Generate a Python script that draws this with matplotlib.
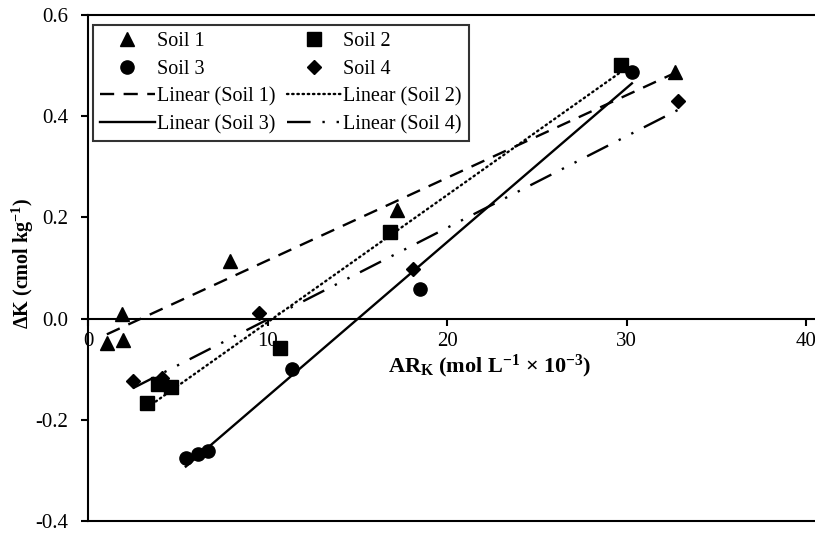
import numpy as np
import matplotlib
matplotlib.use("Agg")
import matplotlib.pyplot as plt

# values
soil1_x = [1.05, 1.95, 1.9, 7.9, 17.2, 32.7]
soil1_y = [-0.048, -0.042, 0.009, 0.113, 0.214, 0.488]
soil2_x = [3.3, 3.9, 4.6, 10.7, 16.8, 29.7]
soil2_y = [-0.167, -0.130, -0.136, -0.058, 0.171, 0.502]
soil3_x = [5.45, 6.15, 6.7, 11.35, 18.5, 30.3]
soil3_y = [-0.276, -0.268, -0.261, -0.100, 0.058, 0.487]
soil4_x = [2.5, 4.15, 9.5, 18.1, 32.85]
soil4_y = [-0.124, -0.117, 0.012, 0.099, 0.431]

x_ticks = [0, 10, 20, 30, 40]
y_ticks = [-0.4, -0.2, 0.0, 0.2, 0.4, 0.6]

plt.rcParams['font.family'] = ['Liberation Serif', 'DejaVu Serif']
plt.rcParams['mathtext.fontset'] = 'custom'
plt.rcParams['mathtext.rm'] = 'Liberation Serif'
plt.rcParams['mathtext.bf'] = 'Liberation Serif:bold'
plt.rcParams['mathtext.it'] = 'Liberation Serif:italic'

fig = plt.figure(figsize=(8.15, 5.33), dpi=100)
ax = fig.add_axes([88 / 815, 12 / 533, 727 / 815, 506 / 533])

lw = 1.7

def trend(xs, ys):
    xs = np.array(xs)
    m, b = np.polyfit(xs, ys, 1)
    xx = np.array([xs.min(), xs.max()])
    return xx, m * xx + b

h1, = ax.plot(soil1_x, soil1_y, '^', color='black', ms=10.5, ls='none', label='Soil 1')
h2, = ax.plot(soil2_x, soil2_y, 's', color='black', ms=10, ls='none', label='Soil 2')
h3, = ax.plot(soil3_x, soil3_y, 'o', color='black', ms=9.5, ls='none', label='Soil 3')
h4, = ax.plot(soil4_x, soil4_y, 'D', color='black', ms=7.5, ls='none', label='Soil 4')

tx, ty = trend(soil1_x, soil1_y)
l1, = ax.plot(tx, ty, color='black', lw=lw, dashes=(6, 4), label='Linear (Soil 1)')
tx, ty = trend(soil2_x, soil2_y)
l2, = ax.plot(tx, ty, color='black', lw=lw, dashes=(0.6, 1.6), dash_capstyle='round',
              label='Linear (Soil 2)')
tx, ty = trend(soil3_x, soil3_y)
l3, = ax.plot(tx, ty, color='black', lw=lw, label='Linear (Soil 3)')
tx, ty = trend(soil4_x, soil4_y)
l4, = ax.plot(tx, ty, color='black', lw=lw, dashes=(10, 5, 1, 5, 1, 5), label='Linear (Soil 4)')

ax.set_xlim(0, 40.5)
ax.set_ylim(-0.4, 0.6)
ax.set_xticks(x_ticks)
ax.set_yticks(y_ticks)
ax.set_yticklabels(['%.1f' % v for v in y_ticks])

ax.spines['bottom'].set_position(('data', 0))
ax.spines['right'].set_visible(False)
for s in ['bottom', 'left', 'top']:
    ax.spines[s].set_linewidth(1.5)
ax.axhline(-0.4, color='black', lw=1.5, clip_on=False)

ax.tick_params(axis='y', direction='out', length=5, width=1.5, pad=9, labelsize=15)
ax.tick_params(axis='x', direction='out', length=5, width=1.5, pad=5, labelsize=15)

ax.set_xlabel(r'AR$_\mathbf{K}$ (mol L$^\mathbf{-1}$ × 10$^\mathbf{-3}$)', fontsize=16,
              fontweight='bold')
ax.xaxis.set_label_coords(0.552, 0.333)
ax.set_ylabel(r'ΔK (cmol kg$^\mathbf{-1}$)', fontsize=14.5, fontweight='bold')
ax.yaxis.set_label_coords(-0.072, 0.51)

leg = ax.legend([h1, h3, l1, l3, h2, h4, l2, l4],
                ['Soil 1', 'Soil 3', 'Linear (Soil 1)', 'Linear (Soil 3)',
                 'Soil 2', 'Soil 4', 'Linear (Soil 2)', 'Linear (Soil 4)'],
                ncol=2, loc='upper left', bbox_to_anchor=(0.007, 0.98), borderaxespad=0,
                fontsize=14.5, frameon=True, fancybox=False, handlelength=2.7,
                handletextpad=0.1, columnspacing=0.6, labelspacing=0.42,
                borderpad=0.35)
leg.get_frame().set_edgecolor('black')
leg.get_frame().set_linewidth(1.5)

fig.savefig('out.png', dpi=100)
